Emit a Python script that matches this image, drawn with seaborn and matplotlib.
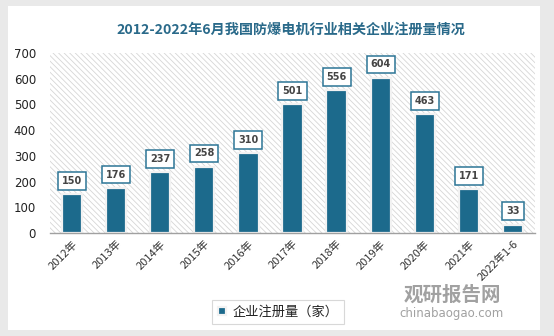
import matplotlib
matplotlib.use("Agg")
import matplotlib.pyplot as plt
from matplotlib.patches import Rectangle
import seaborn as sns
import pandas as pd

years = ["2012年", "2013年", "2014年", "2015年", "2016年", "2017年",
         "2018年", "2019年", "2020年", "2021年", "2022年1-6"]
counts = [150, 176, 237, 258, 310, 501, 556, 604, 463, 171, 33]
series_name = "企业注册量（家）"
title = "2012-2022年6月我国防爆电机行业相关企业注册量情况"

sns.set_theme(style="white")
plt.rcParams["font.family"] = ["Noto Sans CJK SC", "DejaVu Sans"]
plt.rcParams["hatch.linewidth"] = 0.6
plt.rcParams["hatch.color"] = "#d6d6d6"

bar_color = "#1c6a8c"
df = pd.DataFrame({"year": years, "count": counts})

fig = plt.figure(figsize=(5.54, 3.36), dpi=100)
fig.patch.set_facecolor("#e9e9e9")
# white card behind everything
fig.patches.append(Rectangle((8 / 554, 6 / 336), 532 / 554, 324 / 336,
                             transform=fig.transFigure, facecolor="white",
                             edgecolor="none", zorder=-5))

ax = fig.add_axes([50 / 554, (336 - 233) / 336, 485 / 554, 180 / 336])
ax.set_facecolor("none")
# diagonal-striped plot background
ax.add_patch(Rectangle((0, 0), 1, 1, transform=ax.transAxes, facecolor="white",
                       edgecolor="#d6d6d6", linewidth=0,
                       hatch="\\\\\\\\\\\\", zorder=0))

sns.barplot(data=df, x="year", y="count", color=bar_color, width=0.46,
            saturation=1, edgecolor="#f2f2f2", linewidth=1.6, ax=ax, zorder=2,
            label=series_name)

for i, v in enumerate(counts):
    ax.annotate(str(v), (i, v), xytext=(0, 9.5), textcoords="offset points",
                ha="center", va="center", fontsize=7, fontweight="bold",
                color="#454545", family="DejaVu Sans", zorder=4,
                bbox=dict(boxstyle="square,pad=0.4", facecolor="white",
                          edgecolor="#2c7596", linewidth=1.1))

ax.set_ylim(0, 700)
ax.set_xlim(-0.5, len(years) - 0.5)
ax.set_yticks(range(0, 701, 100))
ax.tick_params(axis="y", labelsize=8.5, colors="#222222", length=0, pad=10)
ax.tick_params(axis="x", labelsize=8, colors="#333333", length=0, pad=4)
for lab in ax.get_yticklabels():
    lab.set_family("DejaVu Sans")
plt.setp(ax.get_xticklabels(), rotation=45, ha="right", rotation_mode="anchor")
ax.set_xlabel("")
ax.set_ylabel("")
for s in ["top", "right", "left"]:
    ax.spines[s].set_visible(False)
ax.spines["bottom"].set_color("#a0a0a0")
ax.spines["bottom"].set_linewidth(1.0)

fig.text(291 / 554, 1 - 30 / 336, title, ha="center", va="center",
         fontsize=10.2, fontweight="bold", color="#2a6a8a")

leg = ax.legend(loc="center", bbox_to_anchor=(278 / 554, 1 - 312 / 336),
                bbox_transform=fig.transFigure, fontsize=9.5, frameon=True,
                fancybox=False, edgecolor="#cfcfcf", handlelength=0.6,
                handleheight=0.6, handletextpad=0.5, borderpad=0.4,
                borderaxespad=0)
leg.get_frame().set_linewidth(0.8)
for t in leg.get_texts():
    t.set_color("#222222")

fig.text(452 / 554, 1 - 295 / 336, "观研报告网", ha="center", va="center",
         fontsize=14, fontweight="bold", color="#8a8a8a", alpha=0.8)
fig.text(452 / 554, 1 - 313 / 336, "chinabaogao.com", ha="center", va="center",
         fontsize=8.5, color="#8a8a8a", alpha=0.8, family="DejaVu Sans")

fig.savefig("out.png", dpi=100, facecolor=fig.get_facecolor())
